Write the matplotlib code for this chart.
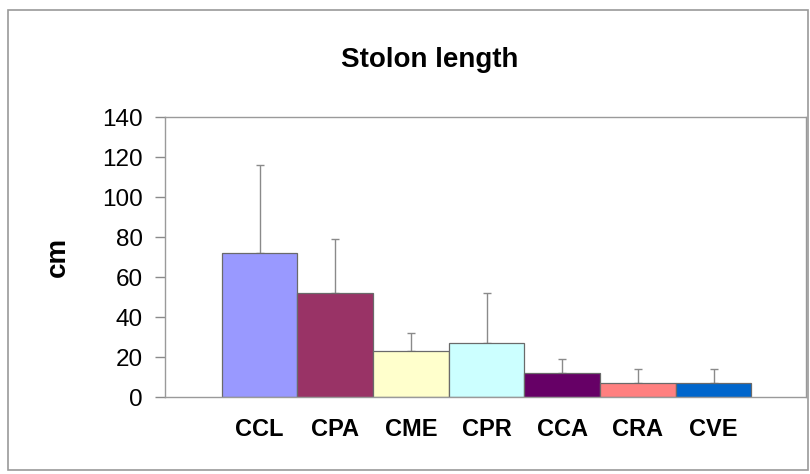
import numpy as np
import matplotlib.pyplot as plt
from matplotlib.patches import Rectangle

categories = ['CCL', 'CPA', 'CME', 'CPR', 'CCA', 'CRA', 'CVE']
means = [72, 52, 23, 27, 12, 7, 7]
upper = [116, 79, 32, 52, 19, 14, 14]
colors = ['#9999FF', '#993366', '#FFFFCC', '#CCFFFF', '#660066', '#FF8080', '#0066CC']


def main():
    plt.rcParams['font.family'] = ['Liberation Sans', 'DejaVu Sans']
    fig = plt.figure(figsize=(8.1, 4.74), dpi=100)
    ax = fig.add_axes([0.2037, 0.1624, 0.7913, 0.5906])

    x = np.arange(len(categories))
    means_arr = np.array(means)
    err = np.array(upper) - means_arr
    ax.bar(x, means_arr, width=1.0, color=colors, edgecolor='#6a6a6a',
           linewidth=0.9, zorder=2)
    ax.errorbar(x, means_arr, yerr=[np.zeros_like(err), err], fmt='none',
                ecolor='#8a8a8a', elinewidth=1.0, capsize=3, capthick=1.0,
                zorder=1)

    ax.set_xlim(-1.25, 7.22)
    ax.set_ylim(0, 140)
    ax.set_yticks(range(0, 141, 20))
    ax.set_xticks(x)
    ax.set_xticklabels(categories, fontsize=17, fontweight='bold')
    ax.tick_params(axis='x', length=0, pad=15)
    ax.tick_params(axis='y', labelsize=17.5, length=7, width=1,
                   color='#8a8a8a', pad=9)
    for s in ax.spines.values():
        s.set_color('#9a9a9a')
        s.set_linewidth(1.0)

    fig.text(0.072, 0.458, 'cm', rotation=90, fontsize=20, fontweight='bold',
             ha='center', va='center')
    fig.text(0.53, 0.874, 'Stolon length', fontsize=20, fontweight='bold',
             ha='center', va='center')

    frame = Rectangle((0.010, 0.008), 0.987, 0.971, transform=fig.transFigure,
                      fill=False, edgecolor='#9a9a9a', linewidth=1.2)
    fig.patches.append(frame)

    fig.savefig('out.png', dpi=100)


if __name__ == '__main__':
    main()
